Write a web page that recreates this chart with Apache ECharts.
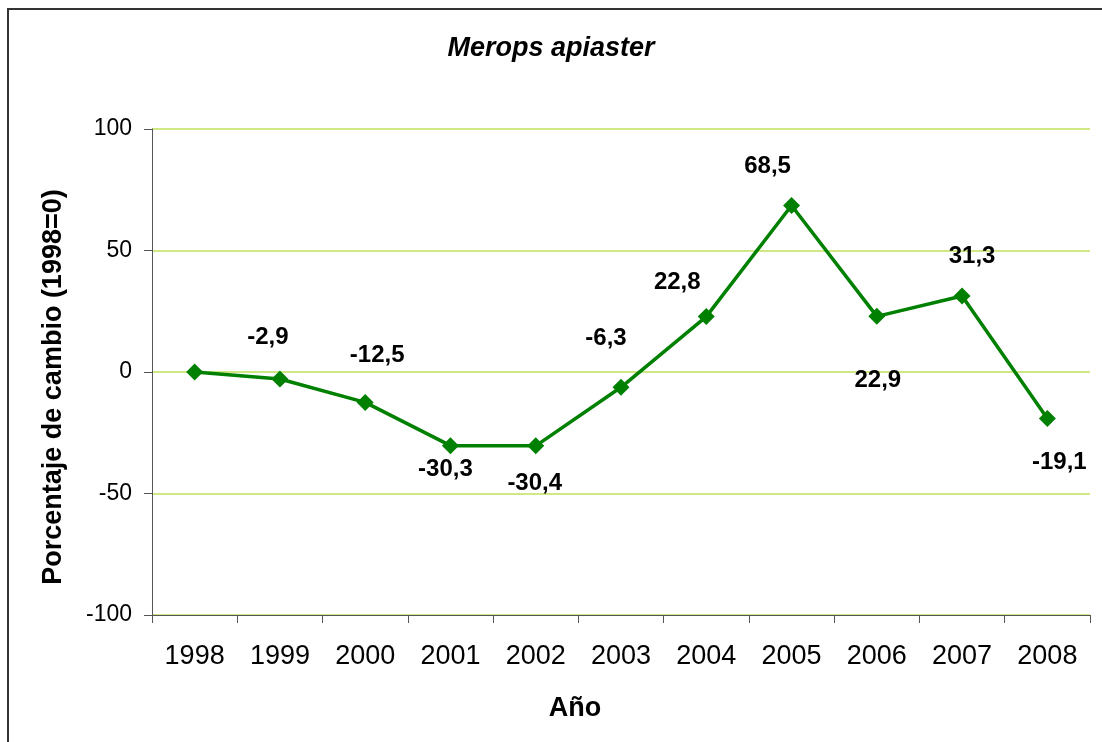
<!DOCTYPE html>
<html>
<head>
<meta charset="utf-8">
<script src="https://cdn.jsdelivr.net/npm/echarts@6/dist/echarts.min.js"></script>
<style>
html,body{margin:0;padding:0;background:#fff;}
#chart{width:1102px;height:742px;}
</style>
</head>
<body>
<div id="chart"></div>
<script>
const years = ['1998','1999','2000','2001','2002','2003','2004','2005','2006','2007','2008'];
const values = [0, -2.9, -12.5, -30.3, -30.4, -6.3, 22.8, 68.5, 22.9, 31.3, -19.1];
const labelTexts = ['', '-2,9', '-12,5', '-30,3', '-30,4', '-6,3', '22,8', '68,5', '22,9', '31,3', '-19,1'];
const yTicks = { min: -100, max: 100, interval: 50 };
// label offsets (layout only)
const labelOffsets = [[0,0],[-12,-42],[12,-47],[-5,24],[-1,38],[-15,-49],[-29,-34],[-24,-39],[1,64],[10,-40],[12,44]];

const chart = echarts.init(document.getElementById('chart'), null, {renderer:'canvas'});
const FONT = '"Liberation Sans", Arial, sans-serif';
const seriesData = values.map((v,i) => ({
  value: v,
  label: {
    show: labelTexts[i] !== '',
    formatter: labelTexts[i],
    position: 'inside',
    offset: labelOffsets[i]
  }
}));
chart.setOption({
  animation: false,
  backgroundColor: '#fff',
  title: {
    text: 'Merops apiaster',
    left: 'center',
    top: 35,
    padding: 0,
    textStyle: { fontFamily: FONT, fontSize: 27, fontWeight: 'bold', fontStyle: 'italic', color: '#000' }
  },
  graphic: [{
    type: 'rect',
    shape: { x: 8, y: 9, width: 1200, height: 800 },
    style: { fill: 'none', stroke: '#333', lineWidth: 2 },
    silent: true, z: -1
  }],
  grid: { left: 152, top: 129, right: 12, bottom: 127, containLabel: false },
  xAxis: {
    type: 'category',
    data: years,
    boundaryGap: true,
    name: 'Año',
    nameLocation: 'middle',
    nameGap: 80,
    nameTextStyle: { fontFamily: FONT, fontSize: 27, fontWeight: 'bold', color: '#000', padding: [0, 92, 0, 0] },
    axisLine: { onZero: false, lineStyle: { color: '#555', width: 1 } },
    axisTick: { show: true, length: 8, alignWithLabel: false, lineStyle: { color: '#555' } },
    axisLabel: { fontFamily: FONT, fontSize: 27, color: '#000', margin: 28, interval: 0 },
    splitLine: { show: false }
  },
  yAxis: {
    type: 'value',
    min: yTicks.min, max: yTicks.max, interval: yTicks.interval,
    name: 'Porcentaje de cambio (1998=0)',
    nameLocation: 'middle',
    nameRotate: 90,
    nameGap: 85,
    nameTextStyle: { fontFamily: FONT, fontSize: 27, fontWeight: 'bold', color: '#000', padding: [0, 30, 0, 0] },
    axisLine: { show: true, lineStyle: { color: '#555', width: 1 } },
    axisTick: { show: true, length: 8, lineStyle: { color: '#555' } },
    axisLabel: { fontFamily: FONT, fontSize: 23, color: '#000', margin: 20 },
    splitLine: { show: true, lineStyle: { color: '#bfe05a', width: 1.5 } }
  },
  series: [{
    type: 'line',
    data: seriesData,
    symbol: 'diamond',
    symbolSize: 17,
    itemStyle: { color: '#008000' },
    lineStyle: { color: '#008000', width: 3.5 },
    label: { fontFamily: FONT, fontSize: 24, fontWeight: 'bold', color: '#000' },
    z: 3
  }]
});
</script>
</body>
</html>
